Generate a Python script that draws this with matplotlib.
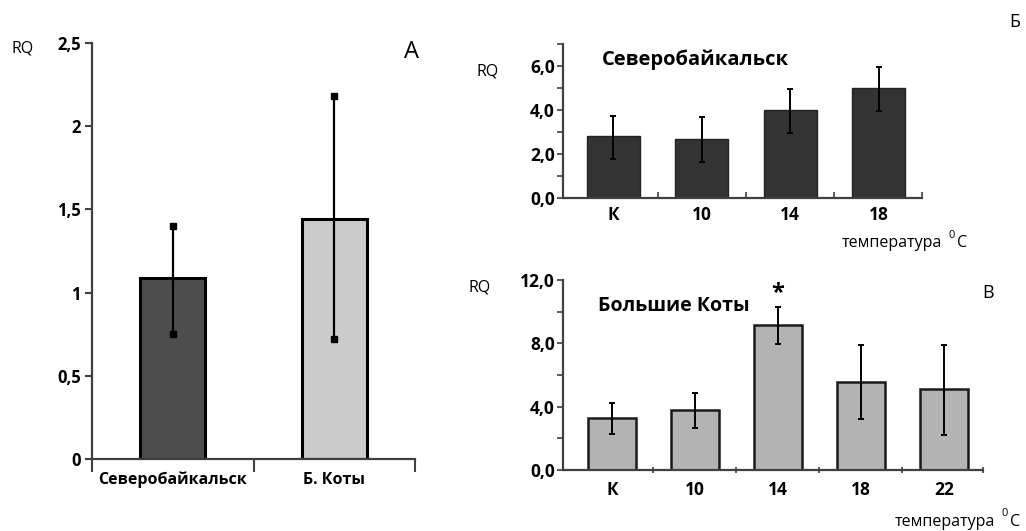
import matplotlib.pyplot as plt
from matplotlib.ticker import FixedLocator

plt.rcParams['font.family'] = ['Open Sans', 'DejaVu Sans']
plt.rcParams['font.weight'] = 'bold'

# panel A
sites = ['Северобайкальск', 'Б. Коты']
rq_sites = [1.09, 1.44]
err_lo_sites = [0.75, 0.72]
err_hi_sites = [1.40, 2.18]
colors_sites = ['#4d4d4d', '#cccccc']
yticks_a = [0, 0.5, 1, 1.5, 2, 2.5]
ylabels_a = ['0', '0,5', '1', '1,5', '2', '2,5']

# panel Б (Северобайкальск)
temps_b = ['К', '10', '14', '18']
rq_b = [2.82, 2.70, 3.99, 4.98]
lo_b = [1.77, 1.65, 2.95, 3.95]
hi_b = [3.74, 3.68, 4.95, 5.95]
yticks_b = [0, 2, 4, 6]
ylabels_b = ['0,0', '2,0', '4,0', '6,0']

# panel В (Большие Коты)
temps_v = ['К', '10', '14', '18', '22']
rq_v = [3.31, 3.81, 9.18, 5.58, 5.12]
lo_v = [2.29, 2.63, 7.98, 3.20, 2.21]
hi_v = [4.21, 4.88, 10.29, 7.89, 7.89]
yticks_v = [0, 4, 8, 12]
ylabels_v = ['0,0', '4,0', '8,0', '12,0']

fig = plt.figure(figsize=(10.26, 5.31), dpi=100)

def style(ax):
    for s in ['top', 'right']:
        ax.spines[s].set_visible(False)
    for s in ['left', 'bottom']:
        ax.spines[s].set_color('#404040')
        ax.spines[s].set_linewidth(1.6)

def figtext(x, y, s, **kw):
    # x, y in pixels from the top left corner
    kw.setdefault('fontweight', 'normal')
    fig.text(x / 1026, 1 - y / 531, s, **kw)

# ---- A
axA = fig.add_axes([0.0897, 0.1356, 0.3148, 0.7834])
style(axA)
xa = list(range(len(sites)))
axA.bar(xa, rq_sites, width=0.4, color=colors_sites, edgecolor='black', linewidth=2.2)
axA.vlines(xa, err_lo_sites, err_hi_sites, color='black', lw=1.6)
axA.plot(xa * 2, err_lo_sites + err_hi_sites, 's', color='black', ms=4.5)
axA.set_xlim(-0.5, 1.5)
axA.set_ylim(0, 2.5)
axA.set_yticks(yticks_a, ylabels_a, fontsize=12)
axA.tick_params(axis='y', length=5, width=1.5, color='#404040', pad=3)
axA.set_xticks([-0.5, 0.5, 1.5], ['', '', ''])
axA.tick_params(axis='x', length=9, width=1.5, color='#404040')
for i, s in enumerate(sites):
    axA.text(i, -0.125, s, ha='center', va='center', fontsize=11.5)
figtext(23, 48, 'RQ', ha='center', va='center', fontsize=11.5)
figtext(412, 52, 'А', ha='center', va='center', fontsize=17)

# ---- Б
axB = fig.add_axes([0.5487, 0.6271, 0.3499, 0.29])
style(axB)
xb = list(range(len(temps_b)))
axB.bar(xb, rq_b, width=0.6, color='#333333', edgecolor='#222222', linewidth=1)
eb = [[r - l for r, l in zip(rq_b, lo_b)], [h - r for r, h in zip(rq_b, hi_b)]]
axB.errorbar(xb, rq_b, yerr=eb, fmt='none', ecolor='black', elinewidth=1.4,
             capsize=2.5, capthick=1.4)
axB.set_xlim(-0.57, 3.49)
axB.set_ylim(0, 7)
axB.set_yticks(yticks_b, ylabels_b, fontsize=12.5)
axB.yaxis.set_minor_locator(FixedLocator([1, 3, 5, 7]))
axB.tick_params(axis='y', which='both', length=4, width=1.2, color='#404040', pad=2)
axB.set_xticks(xb, temps_b, fontsize=12.5)
axB.xaxis.set_minor_locator(FixedLocator([0.5, 1.5, 2.5, 3.49]))
axB.tick_params(axis='x', which='major', length=0, pad=6)
axB.tick_params(axis='x', which='minor', direction='in', length=4, width=1.2, color='#404040')
figtext(488, 72, 'RQ', ha='center', va='center', fontsize=11.5)
figtext(602, 60, 'Северобайкальск', ha='left', va='center', fontsize=14.5, fontweight='bold')
figtext(1015, 22, 'Б', ha='center', va='center', fontsize=13)
figtext(942, 243, 'температура', ha='right', va='center', fontsize=11.5)
figtext(952, 235, '0', ha='center', va='center', fontsize=8)
figtext(957, 243, 'C', ha='left', va='center', fontsize=11.5)

# ---- В
axV = fig.add_axes([0.5487, 0.1149, 0.4094, 0.3578])
style(axV)
xv = list(range(len(temps_v)))
axV.bar(xv, rq_v, width=0.58, color='#b3b3b3', edgecolor='#1a1a1a', linewidth=1.8)
ev = [[r - l for r, l in zip(rq_v, lo_v)], [h - r for r, h in zip(rq_v, hi_v)]]
axV.errorbar(xv, rq_v, yerr=ev, fmt='none', ecolor='black', elinewidth=1.4,
             capsize=2.5, capthick=1.4)
axV.set_xlim(-0.59, 4.47)
axV.set_ylim(0, 12)
axV.set_yticks(yticks_v, ylabels_v, fontsize=12.5)
axV.yaxis.set_minor_locator(FixedLocator([2, 6, 10]))
axV.tick_params(axis='y', which='both', length=4, width=1.2, color='#404040', pad=2)
axV.set_xticks(xv, temps_v, fontsize=12.5)
axV.xaxis.set_minor_locator(FixedLocator([0.5, 1.5, 2.5, 3.5, 4.47]))
axV.tick_params(axis='x', which='major', length=0, pad=8)
axV.tick_params(axis='x', which='minor', direction='inout', length=5, width=1.2, color='#404040')
axV.text(2, 11.2, '*', ha='center', va='center', fontsize=17)
figtext(480, 287, 'RQ', ha='center', va='center', fontsize=11.5)
figtext(598, 306, 'Большие Коты', ha='left', va='center', fontsize=14, fontweight='bold')
figtext(988, 293, 'В', ha='center', va='center', fontsize=13)
figtext(995, 522, 'температура', ha='right', va='center', fontsize=11.5)
figtext(1005, 514, '0', ha='center', va='center', fontsize=8)
figtext(1010, 522, 'C', ha='left', va='center', fontsize=11.5)

fig.savefig('out.png', dpi=100)
